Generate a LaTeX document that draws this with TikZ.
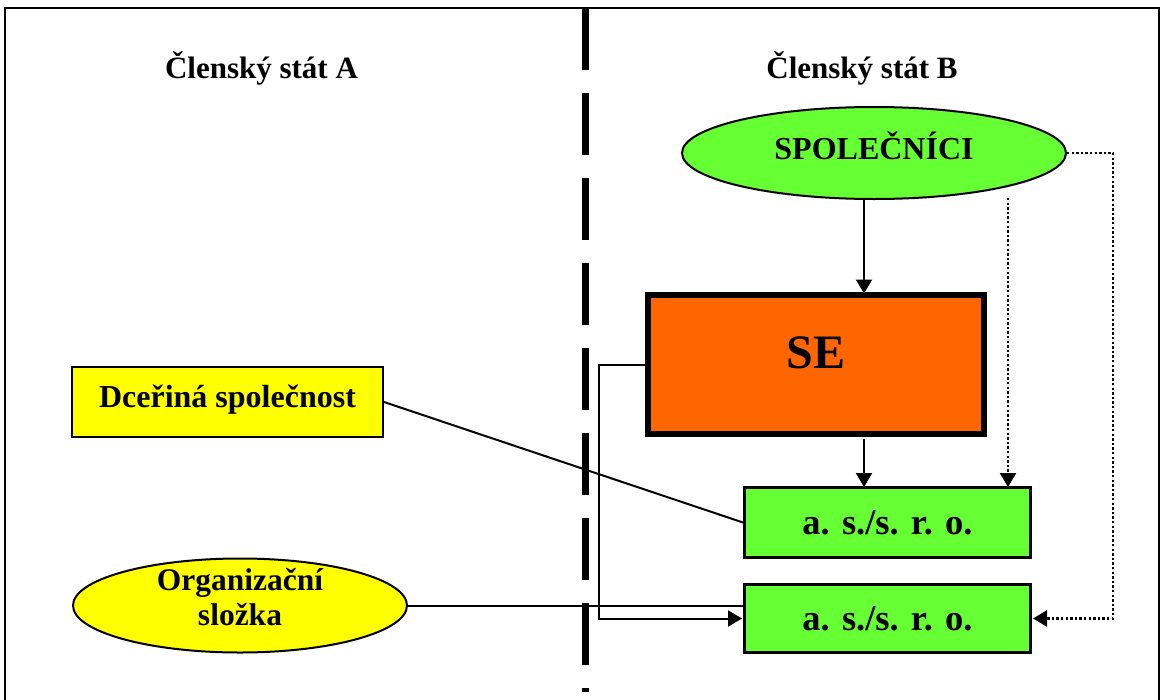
\documentclass[tikz,border=0pt]{standalone}
\usepackage{fontspec}
\setmainfont{Liberation Serif}
\usetikzlibrary{shapes.geometric,arrows.meta}
\definecolor{sgreen}{HTML}{66FF33}
\definecolor{syellow}{HTML}{FFFF00}
\definecolor{sorange}{HTML}{FF6600}
\begin{document}
\begin{tikzpicture}[x=1pt,y=-1pt,
  title/.style={anchor=base,inner sep=0pt,font=\fontsize{31}{35}\selectfont\bfseries},
  ltext/.style={anchor=base,inner sep=0pt,font=\fontsize{31.5}{35}\selectfont\bfseries},
  greenbox/.style={draw,line width=3pt,fill=sgreen,minimum width=286pt,inner sep=0pt,
     font=\fontsize{36.5}{42}\selectfont\bfseries,text height=27pt,text depth=4pt},
  conn/.style={line width=2pt,-{Triangle[length=14pt,width=16pt]}},
  plain/.style={line width=2pt},
  dotconn/.style={line width=2.4pt,dash pattern=on 2.4pt off 2.2pt,-{Triangle[length=14pt,width=16pt]}}
]
\useasboundingbox (0,0) rectangle (1164,699);
\fill[white] (0,0) rectangle (1164,699);
% frame
\draw[line width=2pt] (5,702) -- (5,8) -- (1159,8) -- (1159,702);
% border between states
\draw[line width=7pt,dash pattern=on 62pt off 23pt] (585,8) -- (585,692);
% titles
\node[title] (ta) at (261.5,78) {Členský stát A};
\node[title] (tb) at (862,78) {Členský stát B};
% nodes
\node[ellipse,draw,line width=2pt,fill=sgreen,minimum width=384pt,minimum height=92pt,inner sep=0pt,
  font=\fontsize{32}{36}\selectfont\bfseries,text height=22pt,text depth=10pt] (spol) at (874,153) {SPOLEČNÍCI};
\node[draw,line width=6pt,fill=sorange,minimum width=336pt,minimum height=139pt,inner sep=0pt,
  font=\fontsize{48}{52}\selectfont\bfseries,text height=33pt,text depth=26pt] (se) at (816,364.5) {SE};
\node[draw,line width=2pt,fill=syellow,minimum width=311pt,minimum height=70pt,inner sep=0pt,
  font=\fontsize{32}{35}\selectfont\bfseries,text height=22pt,text depth=12pt] (dc) at (227.5,402) {Dceřiná společnost};
\node[greenbox,minimum height=70pt] (b1) at (887.5,522.5) {a. s./s. r. o.};
\node[greenbox,minimum height=68pt] (b2) at (887.5,618.5) {a. s./s. r. o.};
\node[ellipse,draw,line width=2pt,fill=syellow,minimum width=334pt,minimum height=94pt,inner sep=0pt] (org) at (240,605.5) {};
\node[ltext] (org1) at (240,590) {Organizační};
\node[ltext] (org2) at (240,625) {složka};
% helper coordinates
\coordinate (xa) at (864,0);
\coordinate (xd) at (1008,0);
\coordinate (xr) at (1113,0);
\coordinate (xs) at (599,0);
\coordinate (d1) at (1008,198);
% connectors
\draw[conn] (xa |- spol.south) -- ([yshift=-1.5pt]xa |- se.north);
\draw[conn] ([yshift=-1.5pt]xa |- se.south) -- ([yshift=-1pt]xa |- b1.north);
\draw[dotconn] (d1) -- ([yshift=-1pt]xd |- b1.north);
\draw[dotconn] (spol.east) -- (xr |- spol.east) -- (xr |- b2.east) -- ([xshift=1pt]b2.east);
\draw[plain] (dc.east) -- (b1.west);
\draw[plain] (org.east) -- (org.east -| b2.west);
\draw[conn] (se.west) -- (xs |- se.west) -- (xs |- b2.west) -- ([xshift=-1pt]b2.west);
\end{tikzpicture}
\end{document}
